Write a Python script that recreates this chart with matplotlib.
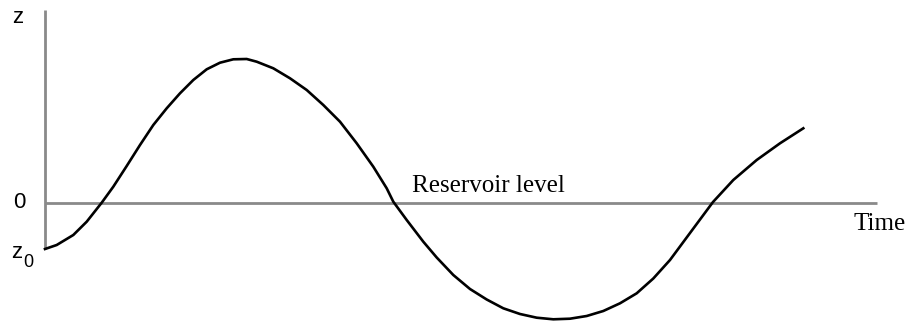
import matplotlib.pyplot as plt

# Surge level z against time, measured from the reservoir level (z = 0)
time = [0, 11.7, 28.3, 41.7, 56.7, 68.3, 81.7, 95, 108.3, 121.7, 135, 148.3,
        161.7, 175, 188.3, 201.7, 211.7, 228.3, 245, 261.7, 278.3, 295, 311.7,
        328.3, 341.7, 348.3, 361.7, 378.3, 391.7, 408.3, 425, 441.7, 458.3,
        475, 491.7, 508.3, 525, 541.7, 558.3, 575, 591.7, 608.3, 625, 645,
        668, 688.3, 711.7, 735, 758.3]
z = [-46, -42, -32, -18.7, 0.3, 16.3, 37, 58, 78, 94.7, 109.7, 123,
     133.7, 140.3, 143.7, 144, 141.3, 134.7, 124.7, 113, 98, 81.3, 59.7,
     36.3, 14.7, 1.3, -17, -38.7, -54.5, -72, -86, -96.5, -105.3,
     -111, -114.7, -116.3, -115.7, -113, -108, -100.3, -90.3, -75.5, -57, -30,
     1, 23, 43, 59.7, 74.7]

fig = plt.figure(figsize=(9.07, 3.22), dpi=100)
ax = fig.add_axes([0, 0, 1, 1])
ax.set_xlim(-45, 862)
ax.set_ylim(-119, 203)
ax.axis('off')

# axes drawn as plain grey lines
axis_color = '#8a8a8a'
ax.plot([0, 0], [-46, 193], color=axis_color, lw=2, solid_capstyle='butt')
ax.plot([0, 832], [0, 0], color=axis_color, lw=2, solid_capstyle='butt')

ax.plot(time, z, color='black', lw=1.9, solid_joinstyle='round')

sans = 'Liberation Sans'
serif = 'Liberation Serif'
ax.text(-27, 180.3, 'z', fontsize=16, family=sans, ha='center', va='baseline')
ax.text(-26, -5.3, '0', fontsize=16, family=sans, ha='center', va='baseline')
ax.text(-28.5, -55, 'z', fontsize=16, family=sans, ha='center', va='baseline')
ax.text(-17, -63.7, '0', fontsize=13, family=sans, ha='center', va='baseline')
ax.text(366.7, 11.3, 'Reservoir level', fontsize=18, family=serif,
        ha='left', va='baseline')
ax.text(808, -27, 'Time', fontsize=18, family=serif, ha='left', va='baseline')

fig.savefig('out.png', dpi=100)
